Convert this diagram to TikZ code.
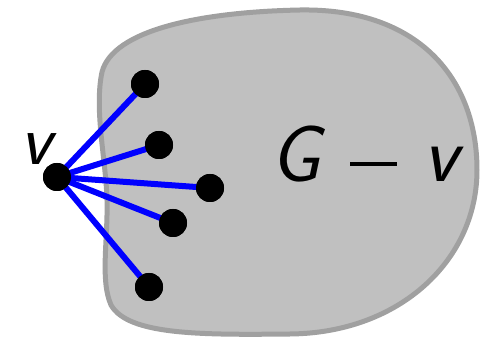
\documentclass[tikz,border=0pt]{standalone}
\begin{document}
\begin{tikzpicture}[x=1pt,y=-1pt,
  vert/.style={circle,fill=black,inner sep=0pt,minimum size=28pt},
  edge/.style={blue,line width=6pt},
  lab/.style={font=\fontsize{72}{80}\selectfont\sffamily\itshape,inner sep=0pt},
  biglab/.style={font=\fontsize{80}{86}\selectfont\sffamily\itshape,inner sep=0pt}]
\useasboundingbox (0,0) rectangle (491,339);
\filldraw[fill={rgb,255:red,192;green,192;blue,192},draw={rgb,255:red,160;green,160;blue,160},line width=5pt]
  (102,72) .. controls (113,30) and (200,12) .. (300,10)
  .. controls (420,8) and (477,80) .. (477,170)
  .. controls (477,260) and (400,333) .. (290,334)
  .. controls (200,335) and (128,335) .. (111,305)
  .. controls (100,280) and (108,240) .. (107,200)
  .. controls (106,160) and (94,110) .. (102,72) -- cycle;
\node[vert] (v) at (57,177) {};
\node[vert] (a) at (145,84) {};
\node[vert] (b) at (159,145) {};
\node[vert] (c) at (210,188) {};
\node[vert] (d) at (173,223) {};
\node[vert] (e) at (149,287) {};
\foreach \n in {a,b,c,d,e} \draw[edge] (v.center) -- (\n.center);
\foreach \n in {v,a,b,c,d,e} \fill (\n) circle (14pt);
\node[lab,anchor=base west] (vl) at (20,165) {v};
\node[biglab,anchor=base west] (gv) at (270,182)
  {\makebox[80pt][l]{G}\rule[16pt]{47pt}{4pt}\hspace{26pt}v};
\end{tikzpicture}
\end{document}
